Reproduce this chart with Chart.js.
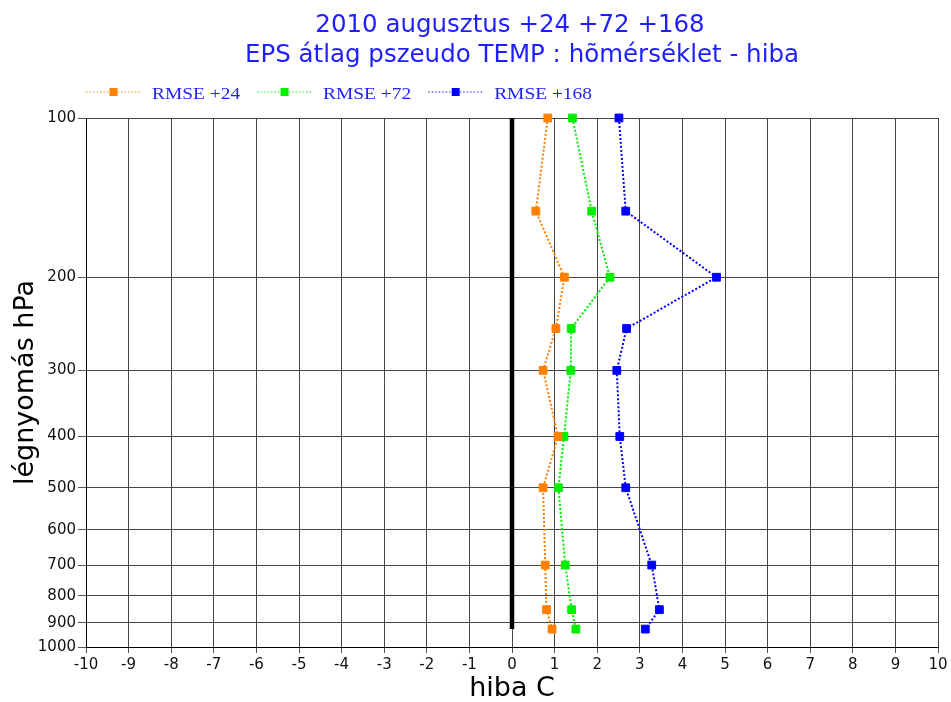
<!DOCTYPE html>
<html><head><meta charset="utf-8">
<script src="https://cdn.jsdelivr.net/npm/chart.js@4"></script>
<style>html,body{margin:0;padding:0;background:#fff;}</style>
</head><body>
<canvas id="c" width="951" height="702"></canvas>
<script>
const titleLines = ['2010 augusztus +24 +72 +168', 'EPS átlag pszeudo TEMP : hõmérséklet - hiba'];
const pressureLevels = [100, 150, 200, 250, 300, 400, 500, 700, 850, 925];
const seriesNames = ['RMSE +24', 'RMSE +72', 'RMSE +168'];
const rmse24 = [0.84, 0.56, 1.23, 1.03, 0.73, 1.08, 0.73, 0.78, 0.81, 0.94];
const rmse72 = [1.42, 1.87, 2.30, 1.39, 1.38, 1.22, 1.09, 1.25, 1.40, 1.50];
const rmse168 = [2.51, 2.67, 4.80, 2.69, 2.46, 2.53, 2.67, 3.28, 3.46, 3.13];
const seriesColors = ['#ff8000', '#00ee00', '#0000ff'];
const zeroLineX = [0, 0];
const zeroLineP = [100, 925];
const xTicks = [-10, -9, -8, -7, -6, -5, -4, -3, -2, -1, 0, 1, 2, 3, 4, 5, 6, 7, 8, 9, 10];
const yTicks = [100, 200, 300, 400, 500, 600, 700, 800, 900, 1000];
const xTitle = 'hiba C';
const yTitle = 'légnyomás hPa';

const seriesValues = [rmse24, rmse72, rmse168];
const textBlue = '#1e1eff';

const datasets = seriesValues.map((vals, i) => ({
  label: seriesNames[i],
  data: vals.map((v, k) => ({x: v, y: pressureLevels[k]})),
  showLine: true,
  clip: false,
  borderColor: seriesColors[i],
  backgroundColor: seriesColors[i],
  borderWidth: 2,
  borderDash: [2, 2],
  pointStyle: 'rect',
  pointRadius: 5.5,
  pointBorderWidth: 1,
  pointBackgroundColor: seriesColors[i],
  pointBorderColor: seriesColors[i]
}));
datasets.push({
  label: 'zero',
  data: zeroLineX.map((v, k) => ({x: v, y: zeroLineP[k]})),
  showLine: true,
  borderColor: '#000',
  borderWidth: 4.5,
  pointRadius: 0
});

const headerPlugin = {
  id: 'header',
  afterDraw(chart) {
    const ctx = chart.ctx, ca = chart.chartArea;
    const cx = (ca.left + ca.right) / 2;
    ctx.save();
    ctx.fillStyle = textBlue;
    ctx.font = '24.5px "DejaVu Sans"';
    ctx.textAlign = 'center';
    ctx.textBaseline = 'alphabetic';
    ctx.fillText(titleLines[0], cx - 2, 32);
    ctx.fillText(titleLines[1], cx + 10, 62);
    let x = ca.left;
    const y = 92;
    ctx.font = '16.6px "Liberation Serif"';
    ctx.textAlign = 'left';
    seriesNames.forEach((name, i) => {
      ctx.strokeStyle = seriesColors[i];
      ctx.globalAlpha = 0.6;
      ctx.lineWidth = 1.5;
      ctx.setLineDash([1.5, 2]);
      ctx.beginPath(); ctx.moveTo(x, y); ctx.lineTo(x + 55, y); ctx.stroke();
      ctx.setLineDash([]);
      ctx.globalAlpha = 1;
      ctx.fillStyle = seriesColors[i];
      ctx.fillRect(x + 27.5 - 4, y - 4, 8, 8);
      ctx.save();
      ctx.translate(x + 66, 99);
      ctx.scale(1.17, 1);
      ctx.fillStyle = textBlue;
      ctx.fillText(name, 0, 0);
      const w = ctx.measureText(name).width * 1.17;
      ctx.restore();
      x += 66 + w + 17;
    });
    ctx.restore();
  }
};

new Chart(document.getElementById('c'), {
  type: 'scatter',
  data: {datasets},
  plugins: [headerPlugin],
  options: {
    responsive: false,
    animation: false,
    layout: {padding: {top: 118, right: 13, left: 0, bottom: 0}},
    plugins: {legend: {display: false}, title: {display: false}, tooltip: {enabled: false}},
    scales: {
      x: {
        type: 'linear', min: -10, max: 10,
        afterBuildTicks: s => { s.ticks = xTicks.map(v => ({value: v})); },
        afterFit: s => { s.height = 55; },
        ticks: {autoSkip: false, maxRotation: 0, padding: 3, color: '#111',
          font: {family: 'DejaVu Sans', size: 15}, callback: v => String(v)},
        grid: {color: '#444', lineWidth: 1, tickLength: 6, tickColor: '#555'},
        border: {color: '#000', width: 1},
        title: {display: true, text: xTitle, color: '#000',
          font: {family: 'DejaVu Sans', size: 27, lineHeight: 1}, padding: {top: 0, bottom: 0}}
      },
      y: {
        type: 'logarithmic', reverse: true, min: 100, max: 1000,
        afterBuildTicks: s => { s.ticks = yTicks.map(v => ({value: v})); },
        afterFit: s => { s.width = 86; },
        ticks: {autoSkip: false, padding: 2, color: '#111',
          font: {family: 'DejaVu Sans', size: 15}, callback: v => String(v)},
        grid: {color: '#444', lineWidth: 1, tickLength: 8, tickColor: '#555'},
        border: {color: '#000', width: 1},
        title: {display: true, text: yTitle, color: '#000',
          font: {family: 'DejaVu Sans', size: 27, lineHeight: 1}, padding: {top: 12, bottom: 0}}
      }
    }
  }
});
</script>
</body></html>
